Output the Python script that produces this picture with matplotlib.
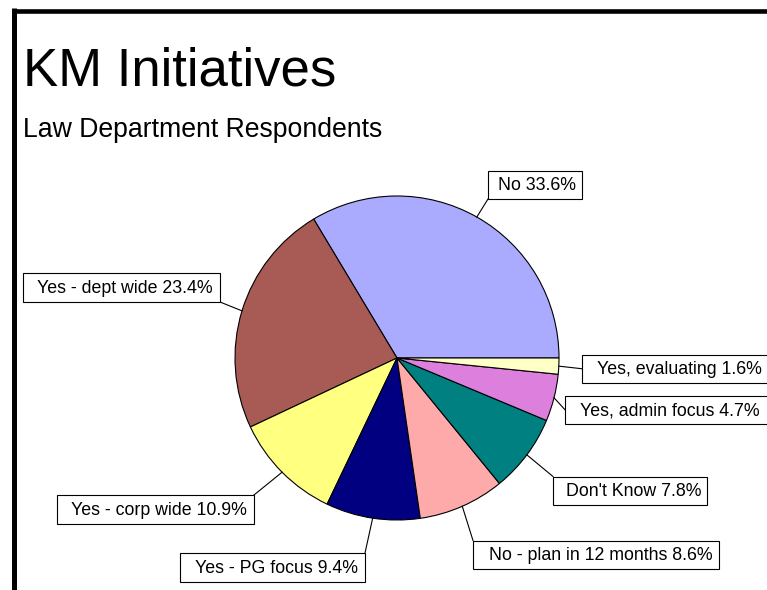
import matplotlib
matplotlib.use('Agg')
import matplotlib.pyplot as plt
from matplotlib.patches import Rectangle
import numpy as np

plt.rcParams['font.family'] = ['Liberation Sans', 'DejaVu Sans']

# data (percent)
labels = ['No', 'Yes - dept wide', 'Yes - corp wide', 'Yes - PG focus',
          'No - plan in 12 months', "Don't Know", 'Yes, admin focus', 'Yes, evaluating']
values = [33.6, 23.4, 10.9, 9.4, 8.6, 7.8, 4.7, 1.6]
colors = ['#AAAAFF', '#A85A55', '#FFFF80', '#000080',
          '#FFAAAA', '#008080', '#DD80DD', '#FFFFC8']

# label boxes (pixel coords, y down): x0, y0, x1, y1, leader attach point (fraction of box), text left pad
boxes = [
    ((488, 171, 582, 199), (0, 1), 10),
    ((23, 273, 220, 302), (1, 1), 14),
    ((57, 495, 254, 524), (1, 0), 14),
    ((180, 553, 365, 582), (1, 0), 15),
    ((473, 540.5, 719, 568.5), (0, 0), 16),
    ((553, 476.5, 707, 505), (0, 0), 13),
    ((565, 395.5, 780, 424), (0, 0.5), 15.5),
    ((582, 354.5, 780, 383), (0, 0.5), 15),
]

fig = plt.figure(figsize=(7.67, 5.90), dpi=100)
ax = fig.add_axes([0, 0, 1, 1])

cx, cy, r = 397, 358, 162
# y axis is flipped below, so counterclock=False draws counter-clockwise on screen
wedges, _ = ax.pie(values, colors=colors, startangle=0, counterclock=False,
                   center=(cx, cy), radius=r, frame=True,
                   wedgeprops=dict(edgecolor='black', linewidth=0.8))
ax.set_xlim(0, 767)
ax.set_ylim(590, 0)
ax.set_aspect('auto')
ax.axis('off')

# frame lines top / left
ax.plot([12, 767], [10.5, 10.5], color='black', lw=3.3, solid_capstyle='butt')
ax.plot([14.3, 14.3], [8.3, 590], color='black', lw=3.6, solid_capstyle='butt')

ax.text(23, 85, 'KM Initiatives', fontsize=38, va='baseline', ha='left')
ax.text(23, 137, 'Law Department Respondents', fontsize=19.2, va='baseline', ha='left')

for w, lab, val, (bx, rel, pad) in zip(wedges, labels, values, boxes):
    ang = np.radians((w.theta1 + w.theta2) / 2)
    ex, ey = cx + r * np.cos(ang), cy + r * np.sin(ang)
    x0, y0, x1, y1 = bx
    px, py = x0 + rel[0] * (x1 - x0), y0 + rel[1] * (y1 - y0)
    ax.plot([ex, px], [ey, py], color='black', lw=0.8)
    ax.add_patch(Rectangle((x0, y0), x1 - x0, y1 - y0, fc='white', ec='black',
                           lw=0.8, clip_on=False, zorder=3))
    ax.text(x0 + pad, (y0 + y1) / 2 + 1, f'{lab} {val}%', ha='left', va='center',
            fontsize=12.8, zorder=4)

fig.savefig('out.png', dpi=100)
